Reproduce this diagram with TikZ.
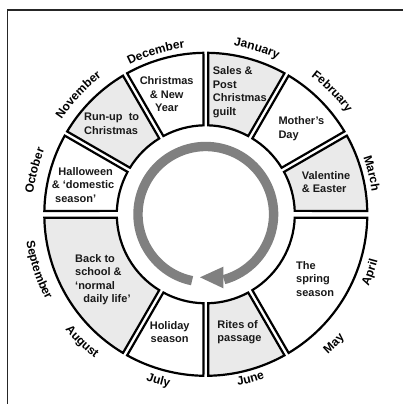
\documentclass[tikz,border=0pt]{standalone}
\usepackage{fontspec}
\setmainfont{Liberation Sans}
\usetikzlibrary{decorations.text}

\definecolor{boxgray}{RGB}{234,234,234}
\definecolor{arrowgray}{RGB}{128,128,128}

\def\Ro{161.5}
\def\Ri{89}
\newcommand{\monthfont}{\bfseries\fontsize{12}{14}\selectfont}

% one season box: from angle, to angle, gap at from, gap at to, style
\newcommand{\seasonbox}[5]{%
  \draw[seasonline,#5] ({#1+asin(#3/\Ro)}:\Ro) arc[start angle={#1+asin(#3/\Ro)}, end angle={#2-asin(#4/\Ro)}, radius=\Ro]
    -- ({#2-asin(#4/\Ri)}:\Ri) arc[start angle={#2-asin(#4/\Ri)}, end angle={#1+asin(#3/\Ri)}, radius=\Ri] -- cycle;}
% month on the upper half (clockwise) and on the lower half (anticlockwise)
\newcommand{\monthtop}[3]{%
  \path[decorate, decoration={text along path, text align=center, text={|\monthfont|#3}}]
    ({#1+40}:#2) arc[start angle={#1+40}, end angle={#1-40}, radius=#2];}
\newcommand{\monthbottom}[3]{%
  \path[decorate, decoration={text along path, text align=center, text={|\monthfont|#3}}]
    ({#1-40}:#2) arc[start angle={#1-40}, end angle={#1+40}, radius=#2];}

\tikzset{
  seasonline/.style={line width=2.2pt, line join=miter, draw=black},
  grayseason/.style={fill=boxgray},
  whiteseason/.style={fill=white},
  seasontext/.style={font=\bfseries\fontsize{11}{13.5}\selectfont, inner sep=0pt, text=black!90},
}

\begin{document}
\begin{tikzpicture}[x=1pt,y=1pt]

\useasboundingbox (-205.8,-189.7) rectangle (197.2,214.3);

%Frame
\draw[black!85, line width=1.2pt] (-198.3,-200) -- (-198.3,204.3) -- (205,204.3);

%Shape: season boxes
\seasonbox{60}{90}{2.4}{2.4}{grayseason}
\seasonbox{30}{60}{2.4}{2.4}{whiteseason}
\seasonbox{0}{30}{3.4}{2.4}{grayseason}
\seasonbox{-60}{0}{2.4}{3.4}{whiteseason}
\seasonbox{-90}{-60}{2.4}{2.4}{grayseason}
\seasonbox{-120}{-90}{2.4}{2.4}{whiteseason}
\seasonbox{-180}{-120}{3.4}{2.4}{grayseason}
\seasonbox{150}{180}{2.4}{3.4}{whiteseason}
\seasonbox{120}{150}{2.4}{2.4}{grayseason}
\seasonbox{90}{120}{2.4}{2.4}{whiteseason}

%Curve Lines: turning arrow
\draw[arrowgray, line width=9.4pt] (258.3:67.8) arc[start angle=258.3, end angle=-74.5, radius=67.8];
\fill[arrowgray] (17.5,-52.4) -- (-5.8,-63) -- (17.5,-74) -- cycle;

% Month labels
\monthtop{165.7}{173.7}{October}
\monthtop{136.9}{172.5}{November}
\monthtop{107.1}{167.6}{December}
\monthtop{72.9}{170.8}{January}
\monthtop{44.2}{173.8}{February}
\monthtop{13.8}{167.5}{March}
\monthbottom{-19.4}{178}{April}
\monthbottom{-45.3}{185.8}{May}
\monthbottom{-74.8}{174}{June}
\monthbottom{-105.9}{176.6}{July}
\monthbottom{-134.1}{181.9}{August}
\monthbottom{-161.6}{181.3}{September}

% Text Node
\node[seasontext, align=left, anchor=west] (sales) at (6.9,122.3) {Sales \&\\Post\\Christmas\\guilt};
% Text Node
\node[seasontext, align=left, anchor=west] (mother) at (72.5,85.6) {Mother’s\\Day};
% Text Node
\node[seasontext, align=left, anchor=west] (valentine) at (95.9,32.3) {Valentine\\\& Easter};
% Text Node
\node[seasontext, align=left, anchor=west] (spring) at (90.2,-64.7) {The\\spring\\season};
% Text Node
\node[seasontext, align=left, anchor=west] (rites) at (11.5,-117.9) {Rites of\\passage};
% Text Node
\node[seasontext, align=center] (holiday) at (-36.1,-117.9) {Holiday\\season};
% Text Node
\node[seasontext, align=left, anchor=west] (school) at (-130.8,-65.2) {Back to\\school \&\\‘normal\\\hspace*{8.3pt}daily life’};
% Text Node
\node[seasontext, align=left, anchor=west] (halloween) at (-154.1,29.5) {\hspace*{6.6pt}Halloween\\\& ‘domestic\\\hspace*{3.3pt}season’};
% Text Node
\node[seasontext, align=left, anchor=west] (runup) at (-121.8,90.3) {Run-up~ to\\Christmas};
% Text Node
\node[seasontext, align=center] (xmas) at (-39.1,120) {Christmas\\\& New\\Year};

\end{tikzpicture}
\end{document}
